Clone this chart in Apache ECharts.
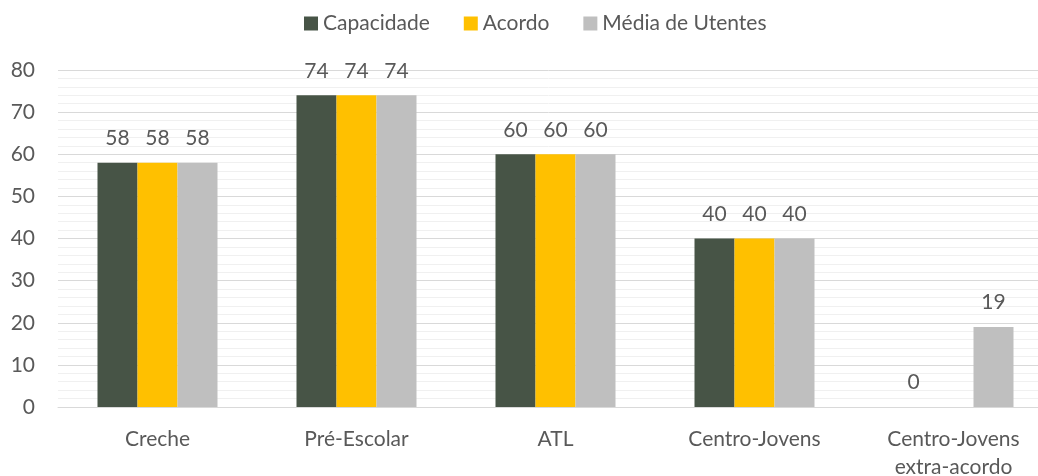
<!DOCTYPE html>
<html>
<head>
<meta charset="utf-8">
<script src="https://cdn.jsdelivr.net/npm/echarts@6/dist/echarts.min.js"></script>
<style>
html, body { margin: 0; padding: 0; background: #fff; }
#chart { width: 1038px; height: 476px; }
</style>
</head>
<body>
<div id="chart"></div>
<script>
var categories = ['Creche', 'Pré-Escolar', 'ATL', 'Centro-Jovens', 'Centro-Jovens\nextra-acordo'];
var capacidade = [58, 74, 60, 40, 0];
var acordo = [58, 74, 60, 40, null];
var mediaUtentes = [58, 74, 60, 40, 19];
var yTicks = [0, 80, 10];

var txt = '#595959';
var font = 'Lato';

function barSerie(name, data, color) {
	return {
		name: name,
		type: 'bar',
		data: data,
		barWidth: 40,
		barGap: 0,
		itemStyle: { color: color },
		label: {
			show: true,
			position: 'top',
			distance: 14,
			color: txt,
			fontFamily: font,
			fontSize: 21
		}
	};
}

var chart = echarts.init(document.getElementById('chart'));
chart.setOption({
	animation: false,
	textStyle: { fontFamily: font },
	legend: {
		top: 8,
		left: 299,
		itemWidth: 14,
		itemHeight: 14,
		itemGap: 34,
		icon: 'rect',
		textStyle: { color: txt, fontSize: 21, fontFamily: font }
	},
	grid: { left: 58, top: 70, width: 995, height: 337, outerBoundsMode: 'none' },
	xAxis: {
		type: 'category',
		data: categories,
		axisLine: { lineStyle: { color: '#D9D9D9' } },
		axisTick: { show: false },
		axisLabel: { color: txt, fontSize: 21, fontFamily: font, margin: 18, lineHeight: 28 }
	},
	yAxis: {
		type: 'value',
		min: yTicks[0],
		max: yTicks[1],
		interval: yTicks[2],
		axisLine: { show: false },
		axisTick: { show: false },
		axisLabel: { color: txt, fontSize: 21, fontFamily: font, margin: 23 },
		splitLine: { lineStyle: { color: '#D9D9D9' } },
		minorTick: { show: false, splitNumber: 5 },
		minorSplitLine: { show: true, lineStyle: { color: '#F0F0F0' } }
	},
	series: [
		barSerie('Capacidade', capacidade, '#475446'),
		barSerie('Acordo', acordo, '#FFC000'),
		barSerie('Média de Utentes', mediaUtentes, '#BFBFBF')
	]
});
</script>
</body>
</html>
